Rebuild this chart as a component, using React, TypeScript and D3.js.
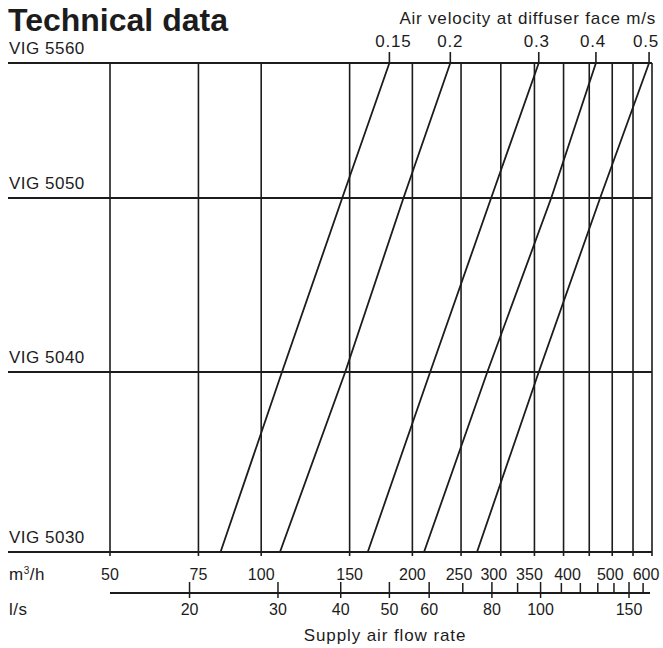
import React from "react";
import * as d3 from "d3";

// ---- data ----
const sizes = ["VIG 5030", "VIG 5040", "VIG 5050", "VIG 5560"]; // bottom -> top
const velocities = [0.15, 0.2, 0.3, 0.4, 0.5]; // m/s
// supply air flow (m³/h) where each velocity line crosses each size row (bottom -> top)
const flowV015 = [83, 110, 145, 180];
const flowV020 = [109, 147, 192, 238];
const flowV030 = [163, 217, 287, 357];
const flowV040 = [211, 282, 378, 464];
const flowV050 = [269, 357, 473, 592];
const velocityFlows = [flowV015, flowV020, flowV030, flowV040, flowV050];

const gridM3h = [50, 75, 100, 150, 200, 250, 300, 350, 400, 450, 500, 550, 600];
const labelM3h = [50, 75, 100, 150, 200, 250, 300, 350, 400, 500, 600];
const tickLs = [20, 30, 40, 50, 60, 70, 80, 90, 100, 110, 120, 130, 140, 150, 160];
const labelLs = [20, 30, 40, 50, 60, 80, 100, 150];

const FONT = "'Liberation Sans', Arial, Helvetica, sans-serif";
const INK = "#1c1c1c";

// small hand nudges of crowded labels, as in the printed chart
const m3hNudge: Record<number, number> = { 250: -2, 300: -7, 350: -5, 400: 4, 500: -2, 600: -6 };
const velNudge = [4, 0, -2, -3, -3];

export default function App() {
  const x = d3.scaleLog().domain([50, 600]).range([110, 652]);
  const y = d3.scaleOrdinal<string, number>().domain(sizes).range([552, 372, 198, 63]);
  const yTop = y(sizes[sizes.length - 1]);
  const yBot = y(sizes[0]);
  const lsY = 593;
  const line = d3
    .line<number>()
    .x((d) => x(d))
    .y((_, i) => y(sizes[i]));

  return (
    <svg
      width={663}
      height={648}
      style={{ position: "absolute", left: 0, top: 0, background: "#fff" }}
      fontFamily={FONT}
    >
      <rect width={663} height={648} fill="#fff" />
      {/* title */}
      <text x={8} y={31} fontSize={32} fontWeight="bold" fill={INK}>
        Technical data
      </text>
      <text x={656} y={24} fontSize={17} textAnchor="end" fill={INK} letterSpacing={0.8}>
        Air velocity at diffuser face m/s
      </text>

      {/* vertical grid */}
      {gridM3h.map((v) => (
        <line key={"g" + v} x1={x(v)} x2={x(v)} y1={yTop} y2={yBot + 4} stroke={INK} strokeWidth={1.6} />
      ))}

      {/* rows */}
      {sizes.map((s) => (
        <g key={s}>
          <line x1={8} x2={652} y1={y(s)} y2={y(s)} stroke={INK} strokeWidth={2} />
          <text x={9} y={y(s) - 9} fontSize={17} fill={INK} letterSpacing={0.5}>
            {s}
          </text>
        </g>
      ))}

      {/* velocity lines */}
      {velocityFlows.map((f, i) => (
        <g key={"v" + i}>
          <path d={line(f) || ""} fill="none" stroke={INK} strokeWidth={1.8} />
          <line
            x1={x(f[f.length - 1])}
            x2={x(f[f.length - 1])}
            y1={yTop - 11}
            y2={yTop}
            stroke={INK}
            strokeWidth={1.6}
          />
          <text
            x={x(f[f.length - 1]) + velNudge[i]}
            y={47}
            fontSize={17}
            textAnchor="middle"
            fill={INK}
            letterSpacing={0.8}
          >
            {String(velocities[i])}
          </text>
        </g>
      ))}

      {/* m3/h labels */}
      <text x={9} y={580} fontSize={17} fill={INK} letterSpacing={0.5}>
        m<tspan fontSize={10} dy={-6}>3</tspan>
        <tspan dy={6}>/h</tspan>
      </text>
      {labelM3h.map((v) => (
        <text
          key={"m" + v}
          x={x(v) + (m3hNudge[v] || 0)}
          y={580}
          fontSize={16}
          textAnchor="middle"
          fill={INK}
        >
          {v}
        </text>
      ))}

      {/* l/s axis */}
      <line x1={110} x2={650} y1={lsY} y2={lsY} stroke={INK} strokeWidth={1.8} />
      {tickLs.map((v) => {
        const major = labelLs.includes(v);
        return (
          <line
            key={"t" + v}
            x1={x(v * 3.6)}
            x2={x(v * 3.6)}
            y1={lsY - (major ? 11 : 10)}
            y2={lsY + (major ? 5 : 0)}
            stroke={INK}
            strokeWidth={1.5}
          />
        );
      })}
      <text x={9} y={615} fontSize={17} fill={INK} letterSpacing={0.5}>
        l/s
      </text>
      {labelLs.map((v) => (
        <text key={"l" + v} x={x(v * 3.6)} y={615} fontSize={16} textAnchor="middle" fill={INK}>
          {v}
        </text>
      ))}
      <text x={385} y={641} fontSize={17} textAnchor="middle" fill={INK} letterSpacing={0.9}>
        Supply air flow rate
      </text>
    </svg>
  );
}
